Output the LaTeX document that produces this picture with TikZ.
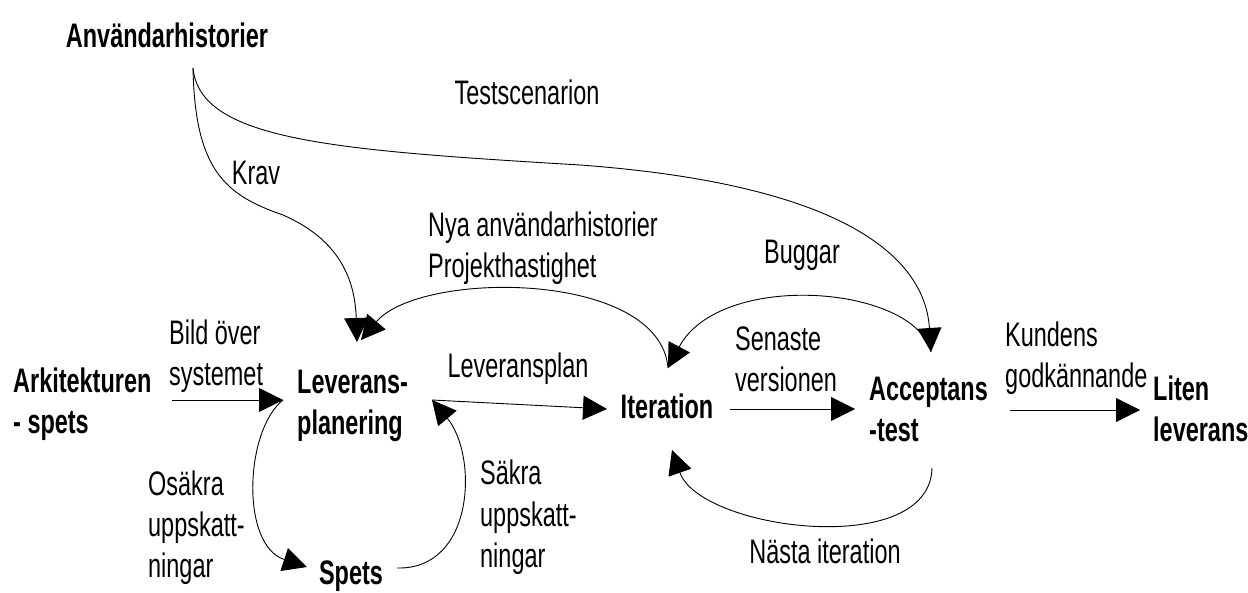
\documentclass[tikz,border=0pt]{standalone}
\usepackage{fontspec}
\setmainfont{Liberation Sans}[FakeStretch=0.69]
\usetikzlibrary{arrows.meta}
\newcommand\stk[1]{\vtop{\halign{##\hfil\cr#1\crcr}}}
\begin{document}
\begin{tikzpicture}[x=1pt,y=-1pt,
  lbl/.style={inner sep=0pt,font=\fontsize{34}{41}\selectfont},
  bl/.style={inner sep=0pt,font=\fontsize{34}{41}\selectfont\bfseries},
  conn/.style={line width=0.9pt,-{Triangle[length=24pt,width=24pt]}}]
\useasboundingbox (0,0) rectangle (1248,593);
% labels
\node[bl,anchor=base] (anv) at (167,48) {Användarhistorier};
\node[lbl,anchor=base] (test) at (527,105) {Testscenarion};
\node[lbl,anchor=base] (krav) at (256,185) {Krav};
\node[lbl,anchor=base west] (nya) at (428,237) {\stk{Nya användarhistorier\cr Projekthastighet}};
\node[lbl,anchor=base] (bugg) at (802,264) {Buggar};
\node[lbl,anchor=base west] (bild) at (169,345) {\stk{Bild över\cr systemet}};
\node[bl,anchor=base west] (ark) at (13,393) {\stk{Arkitekturen\cr - spets}};
\node[bl,anchor=base west] (lev) at (297,394) {\stk{Leverans-\cr planering}};
\node[lbl,anchor=base] (lplan) at (518,378) {Leveransplan};
\node[bl,anchor=base] (iter) at (667,419) {Iteration};
\node[lbl,anchor=base west] (sen) at (735,351) {\stk{Senaste\cr versionen}};
\node[bl,anchor=base west] (acc) at (869,401) {\stk{Acceptans\cr -test}};
\node[lbl,anchor=base west] (kund) at (1005,347) {\stk{Kundens\cr godkännande}};
\node[bl,anchor=base west] (liten) at (1153,401) {\stk{Liten\cr leverans}};
\node[lbl,anchor=base west] (osak) at (148,495) {\stk{Osäkra\cr uppskatt-\cr ningar}};
\node[bl,anchor=base] (spets) at (351,584) {Spets};
\node[lbl,anchor=base west] (sakra) at (480,485) {\stk{Säkra\cr uppskatt-\cr ningar}};
\node[lbl,anchor=base] (nasta) at (825,563) {Nästa iteration};
% connector ends
\coordinate (anvOut) at (193,68);
\coordinate (levInK) at (357,342);
\coordinate (levInN) at (361,340);
\coordinate (levW) at (283,400);
\coordinate (levE) at (432,400);
\coordinate (bildS) at (172,400);
\coordinate (iterW) at (607,409);
\coordinate (iterN) at (668,368);
\coordinate (iterE) at (730,409);
\coordinate (iterS) at (672,450);
\coordinate (accW) at (855,409);
\coordinate (accN) at (931,352);
\coordinate (accS) at (932,468);
\coordinate (accE) at (1010,410);
\coordinate (litW) at (1140,410);
\coordinate (spW) at (307,567);
\coordinate (spE) at (397,568);
% connectors
\draw[conn] (anvOut) .. controls (195,170) and (225,195) .. (283,215)
  .. controls (340,240) and (355,280) .. (levInK);
\draw[conn] (anvOut) .. controls (200,140) and (330,150) .. (580,165)
  .. controls (850,185) and (925,260) .. (accN);
\draw[conn] (iterN) .. controls (660,270) and (420,270) .. (levInN);
\draw[conn] (accN) .. controls (915,285) and (720,270) .. (iterN);
\draw[conn] (accS) .. controls (930,560) and (700,530) .. (iterS);
\draw[conn] (levW) .. controls (245,430) and (240,545) .. (spW);
\draw[conn] (spE) .. controls (475,570) and (478,455) .. (levE);
\draw[conn] (levE) -- (iterW);
\draw[conn] (bildS) -- (levW);
\draw[conn] (iterE) -- (accW);
\draw[conn] (accE) -- (litW);
\end{tikzpicture}
\end{document}
